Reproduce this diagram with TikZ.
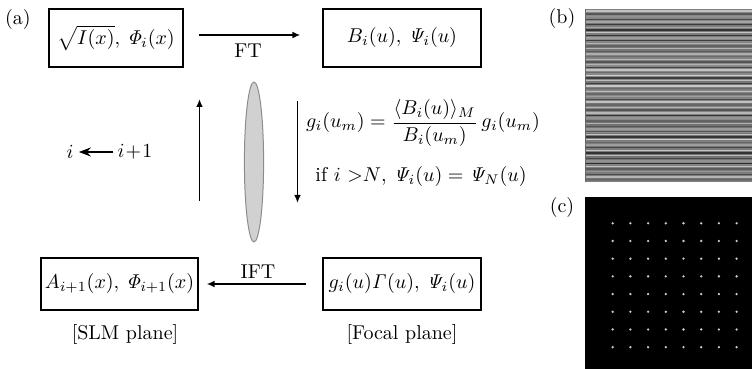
\documentclass[tikz,border=0pt]{standalone}
\usetikzlibrary{arrows.meta}
\begin{document}
\begin{tikzpicture}[x=0.5pt,y=-0.5pt,
  box/.style={draw, line width=0.6pt, minimum height=29pt, inner sep=0pt},
  arr/.style={line width=0.9pt, -{Latex[length=4pt,width=3.4pt]}},
  lbl/.style={inner sep=0pt}]
\useasboundingbox (0,0) rectangle (752,369);
% labels
\node[lbl] (la) at (18,20) {(a)};
\node[lbl] (lb) at (562,19) {(b)};
\node[lbl] (lc) at (562,208) {(c)};
% boxes
\node[box, minimum width=67pt] (b1) at (116,38) {$\sqrt{I(x)},\,\mathit{\Phi}_i(x)$};
\node[box, minimum width=79pt] (b2) at (402,38) {$B_i(u),\,\mathit{\Psi}_i(u)$};
\node[box, minimum width=78.5pt, minimum height=26pt] (b3) at (119.5,284) {$A_{i+1}(x),\,\mathit{\Phi}_{i+1}(x)$};
\node[box, minimum width=79pt, minimum height=26pt] (b4) at (402,284) {$g_i(u)\mathit{\Gamma}(u),\,\mathit{\Psi}_i(u)$};
% FT / IFT
\draw[arr] ([xshift=7.5pt,yshift=1.5pt]b1.east) -- ([xshift=-11pt,yshift=1.5pt]b2.west);
\node[lbl] (ft) at (248,51) {FT};
\draw[arr] ([xshift=-8pt]b4.west) -- ([xshift=4pt]b3.east);
\node[lbl] (ift) at (258,272) {IFT};
% vertical arrows
\coordinate (u1) at (199.5,201);
\coordinate (u2) at (199.5,99);
\draw[arr] (u1) -- (u2);
\coordinate (d1) at (297.5,101);
\coordinate (d2) at (297.5,203);
\draw[arr] (d1) -- (d2);
% lens
\filldraw[fill=black!18, draw=black!45, line width=0.5pt] (254,162) ellipse [x radius=4.8pt, y radius=40pt];
% formula
\node[lbl] (f1) at (423,123) {$\displaystyle g_i(u_m)=\frac{\langle B_i(u)\rangle_M}{B_i(u_m)}\,g_i(u_m)$};
\node[lbl] (f2) at (421,177) {if $i$ $>$$N$, $\mathit{\Psi}_i(u)=\mathit{\Psi}_N(u)$};
% i <- i+1
\node[lbl] (ia) at (70,152) {$i$};
\node[lbl] (ib) at (135,152) {$i\!+\!1$};
\draw[line width=0.9pt, -{Stealth[length=6pt,width=4.5pt]}] ([xshift=-2pt]ib.west) -- ([xshift=2.5pt]ia.east);
% plane labels
\node[lbl] (slm) at (125,335) {[SLM plane]};
\node[lbl] (foc) at (402,335) {[Focal plane]};
% image (b)
\fill[black!50] (585,9) rectangle (752,182);
\pgfmathsetseed{42}
\foreach \k in {0,...,31} {
  \pgfmathsetmacro\gl{18+25*rnd}
  \pgfmathsetmacro\gd{58+25*rnd}
  \pgfmathsetmacro\gm{45+10*rnd}
  \fill[black!\gm] (585,10+5.35*\k) rectangle (752,15.35+5.35*\k);
  \fill[black!\gl] (585,10.5+5.35*\k) rectangle (752,11.9+5.35*\k);
  \fill[black!\gd] (585,13.2+5.35*\k) rectangle (752,14.6+5.35*\k);
}
\draw[black!60, line width=0.5pt] (585.5,9) -- (585.5,182);
% image (c)
\fill[black] (585,197) rectangle (752,369);
\foreach \i in {0,...,7} {
  \foreach \j in {0,...,7} {
    \fill[white!80!black] (612.7+17.7*\i,223.3+17.7*\j) circle[radius=0.65pt];
  }
}
\end{tikzpicture}
\end{document}
